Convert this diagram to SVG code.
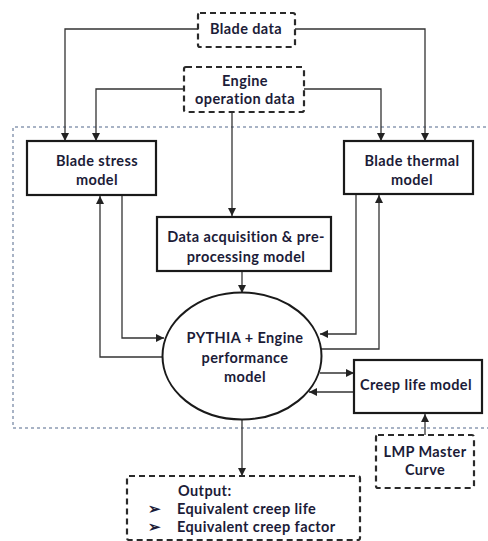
<svg xmlns="http://www.w3.org/2000/svg" width="488" height="541" viewBox="0 0 488 541">
<defs>
<marker id="ah" viewBox="0 0 10 10" refX="10" refY="5" markerWidth="8" markerHeight="8" markerUnits="userSpaceOnUse" orient="auto"><path d="M0,0 L10,5 L0,10 z" fill="#222"/></marker>
<style>
.t{font-family:Lato,"Open Sans","Liberation Sans",sans-serif;font-weight:bold;font-size:14.5px;letter-spacing:0.4px;fill:#1c1c38;text-anchor:middle}
.solid{fill:#fff;stroke:#1a1a1a;stroke-width:2.2}
.dash{fill:#fff;stroke:#2a2a2a;stroke-width:2.2;stroke-dasharray:6,4}
.c{fill:none;stroke:#333;stroke-width:1.3;marker-end:url(#ah)}
</style>
</defs>
<rect width="488" height="541" fill="#fff"/>
<path d="M492,127 H13 V428 H492" fill="none" stroke="#8c9bb3" stroke-width="1.5" stroke-dasharray="3,3"/>
<g id="connectors">
<path class="c" d="M198,29 H65 V141"/>
<path class="c" d="M295,29 H425 V141"/>
<path class="c" d="M184,89 H96 V141"/>
<path class="c" d="M304,89 H381 V141"/>
<path class="c" d="M232,112 V216"/>
<path class="c" d="M242,271 V293"/>
<path class="c" d="M122,195 V338 H164"/>
<path class="c" d="M163,357 H100 V196"/>
<path class="c" d="M356,194 V334 H320"/>
<path class="c" d="M321,349 H379 V195"/>
<path class="c" d="M320,373 H354"/>
<path class="c" d="M354,392 H309"/>
<path class="c" d="M425,435 V414"/>
<path class="c" d="M242,420 V476"/>
</g>
<g id="blade-data"><rect class="dash" x="198" y="13" width="97" height="34" rx="2"/><text class="t" x="246" y="34">Blade data</text></g>
<g id="engine-data"><rect class="dash" x="184" y="67" width="120" height="45" rx="2"/><text class="t" x="245" y="86">Engine</text><text class="t" x="245" y="104">operation data</text></g>
<g id="stress"><rect class="solid" x="27" y="141" width="129" height="54"/><text class="t" x="97" y="166">Blade stress</text><text class="t" x="97" y="185">model</text></g>
<g id="thermal"><rect class="solid" x="344" y="141" width="129" height="53"/><text class="t" x="412" y="166">Blade thermal</text><text class="t" x="412" y="185">model</text></g>
<g id="acq"><rect class="solid" x="157" y="217" width="174" height="54"/><text class="t" x="246" y="242">Data acquisition  &amp; pre-</text><text class="t" x="246" y="262">processing  model</text></g>
<g id="pythia"><ellipse cx="242" cy="356" rx="79.500" ry="63.500" fill="#fff" stroke="#1a1a1a" stroke-width="2"/><text class="t" x="245" y="343">PYTHIA + Engine</text><text class="t" x="245" y="363">performance</text><text class="t" x="245" y="382">model</text></g>
<g id="creep"><rect class="solid" x="354" y="360" width="128" height="53"/><text class="t" x="416" y="390">Creep life  model</text></g>
<g id="lmp"><rect class="dash" x="376" y="435" width="98" height="53" rx="2"/><text class="t" x="425" y="457">LMP Master</text><text class="t" x="425" y="475">Curve</text></g>
<g id="output"><rect class="dash" x="127" y="476" width="233" height="64" rx="2"/>
<text class="t" x="178" y="496" style="text-anchor:start">Output:</text>
<text class="t" x="148" y="514" style="text-anchor:start">➢</text><text class="t" x="177" y="514" style="text-anchor:start">Equivalent  creep life</text>
<text class="t" x="148" y="532" style="text-anchor:start">➢</text><text class="t" x="177" y="532" style="text-anchor:start">Equivalent  creep factor</text></g>
</svg>
